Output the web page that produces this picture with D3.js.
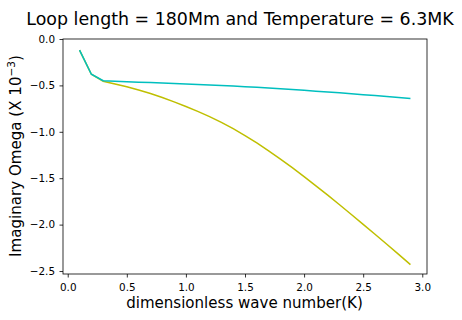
<!DOCTYPE html>
<html><head><meta charset="utf-8">
<script src="https://cdn.jsdelivr.net/npm/d3@7"></script>
<style>body{margin:0;background:#fff}svg{display:block}text{font-family:"DejaVu Sans",sans-serif;fill:#000}</style>
</head><body><svg id="c" width="462" height="320"></svg>
<script>
const kValues = [0.1,0.2,0.3,0.4,0.5,0.6,0.7,0.8,0.9,1.0,1.1,1.2,1.3,1.4,1.5,1.6,1.7,1.8,1.9,2.0,2.1,2.2,2.3,2.4,2.5,2.6,2.7,2.8,2.9];
const seriesA = [-0.12,-0.38,-0.45,-0.455,-0.46,-0.465,-0.47,-0.475,-0.48,-0.485,-0.49,-0.495,-0.50,-0.507,-0.514,-0.521,-0.529,-0.537,-0.545,-0.553,-0.562,-0.571,-0.58,-0.59,-0.60,-0.61,-0.62,-0.63,-0.64];
const seriesB = [-0.12,-0.38,-0.455,-0.485,-0.515,-0.55,-0.588,-0.63,-0.677,-0.727,-0.78,-0.836,-0.898,-0.966,-1.04,-1.12,-1.205,-1.294,-1.387,-1.483,-1.582,-1.683,-1.786,-1.891,-1.997,-2.104,-2.212,-2.321,-2.431];
const xTicks = [0.0,0.5,1.0,1.5,2.0,2.5,3.0];
const yTicks = [0.0,-0.5,-1.0,-1.5,-2.0,-2.5];
const titleText = "Loop length = 180Mm and Temperature = 6.3MK";
const xLabel = "dimensionless wave number(K)";

const svg = d3.select("#c");
const L=63, R=427, T=39, B=274;
const x = d3.scaleLinear().domain([-0.04,3.04]).range([L,R]);
const y = d3.scaleLinear().domain([-2.532,0.0]).range([B,T]);
const fmt = d => (d<0?"\u2212":"")+Math.abs(d).toFixed(1);

const gx = svg.append("g").attr("transform",`translate(0,${B})`)
  .call(d3.axisBottom(x).tickValues(xTicks).tickFormat(fmt).tickSize(3.5).tickPadding(6.5));
const gy = svg.append("g").attr("transform",`translate(${L},0)`)
  .call(d3.axisLeft(y).tickValues(yTicks).tickFormat(fmt).tickSize(3.5).tickPadding(4.5));
[gx,gy].forEach(g=>{g.select(".domain").remove();g.selectAll("line").attr("stroke","#000").attr("stroke-width",0.8);g.selectAll("text").style("font-size","10.4px").style("font-family","DejaVu Sans");});

const line = d3.line().x((d,i)=>x(kValues[i])).y(d=>y(d));
svg.append("path").datum(seriesB).attr("d",line).attr("fill","none").attr("stroke","#bfbf00").attr("stroke-width",1.5);
svg.append("path").datum(seriesA).attr("d",line).attr("fill","none").attr("stroke","#00bfbf").attr("stroke-width",1.5);

svg.append("rect").attr("x",L).attr("y",T).attr("width",R-L).attr("height",B-T).attr("fill","none").attr("stroke","#000").attr("stroke-width",0.8);

function fit(sel, target){
  const base = parseFloat(sel.style("font-size"));
  const len = sel.node().getComputedTextLength();
  const s = base*target/len;
  sel.style("font-size", s+"px");
  sel.selectAll("tspan.sup").style("font-size",(s*0.7)+"px");
}
const t = svg.append("text").attr("x",240).attr("y",24.5).attr("text-anchor","middle").style("font-size","16px").text(titleText);
fit(t,428);
const xl = svg.append("text").attr("x",(L+R)/2-0.5).attr("y",308).attr("text-anchor","middle").style("font-size","14px").text(xLabel);
fit(xl,237);
const yl = svg.append("text").attr("transform",`translate(21,156) rotate(-90)`).attr("text-anchor","middle").style("font-size","14px");
yl.append("tspan").text("Imaginary Omega (X 10");
yl.append("tspan").attr("class","sup").attr("dy",-6).style("font-size","9.8px").text("\u22123");
yl.append("tspan").attr("dy",6).text(")");
fit(yl,202);
</script></body></html>
